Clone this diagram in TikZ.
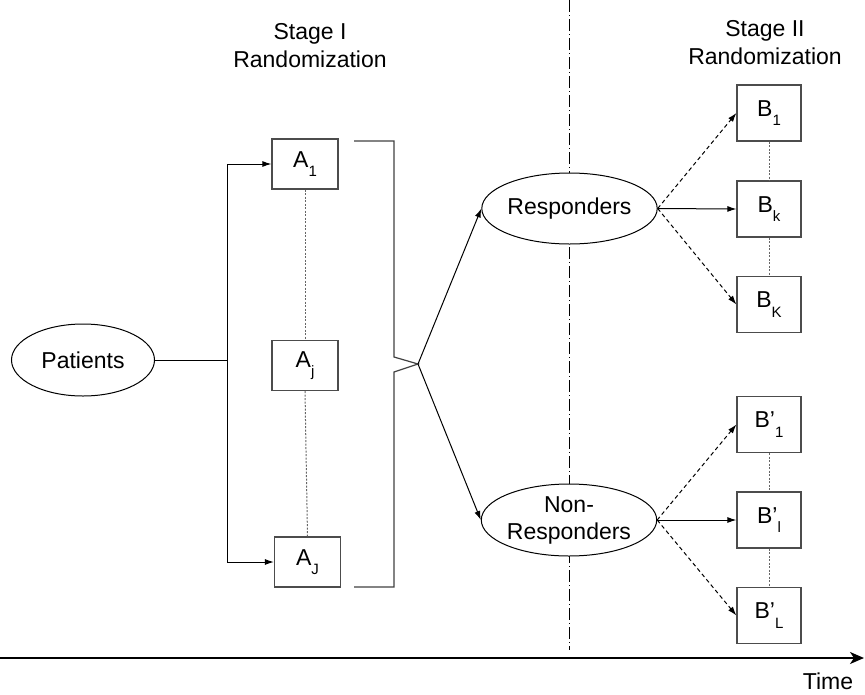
\documentclass[tikz,border=0pt]{standalone}
\usepackage{fontspec}
\setmainfont{Liberation Sans}
\usetikzlibrary{shapes.geometric,arrows.meta}
\newcommand\subtx[1]{\raisebox{-0.4em}{\fontsize{15}{15}\selectfont #1}}
\begin{document}
\begin{tikzpicture}[x=1pt,y=-1pt,
  every node/.style={font=\fontsize{23}{28}\selectfont},
  abox/.style={draw=black!70,line width=1.2pt,minimum width=66pt,minimum height=50pt,inner sep=0pt,fill=white},
  bbox/.style={draw=black!70,line width=1.2pt,minimum width=64pt,minimum height=56pt,inner sep=0pt,fill=white},
  oval/.style={ellipse,draw=black,line width=1pt,fill=white,inner sep=0pt,align=center},
  conn/.style={line width=1pt,-{Latex[length=9pt,width=6pt]}},
  dconn/.style={conn,dash pattern=on 4pt off 3pt},
  dotln/.style={draw=black!60,line width=1pt,dash pattern=on 2pt off 1.5pt},
  ttl/.style={align=center,inner sep=0pt},
]
\useasboundingbox (0,0) rectangle (865,694);

% stage divider
\coordinate (dtop) at (569,0);
\coordinate (dbot) at (569,650);
\draw[line width=0.9pt,dash pattern=on 12pt off 3pt on 1pt off 3pt] (dtop) -- (dbot);

% titles
\node[ttl] (s1) at (310,46) {Stage I\\Randomization};
\node[ttl] (s2) at (765,43) {Stage II\\Randomization};

% nodes
\node[oval,minimum width=143pt,minimum height=72pt] (pat) at (83,360) {Patients};
\node[abox] (A1) at (305,164) {A\subtx{1}};
\node[abox] (Aj) at (305,365.5) {A\subtx{j}};
\node[abox] (AJ) at (307.5,562) {A\subtx{J}};

\node[oval,minimum width=159pt,minimum height=71pt] (resp) at (569.5,208.5) {Responders};
\node[oval,minimum width=160pt,minimum height=72pt] (nresp) at (569,520) {Non-\\[-1pt]Responders};

\node[bbox] (B1) at (769,113) {B\subtx{1}};
\node[bbox] (Bk) at (769,209) {B\subtx{k}};
\node[bbox] (BK) at (769,304.5) {B\subtx{K}};
\node[bbox] (C1) at (769,424.5) {B’\subtx{1}};
\node[bbox] (Cl) at (769,520) {B’\subtx{l}};
\node[bbox] (CL) at (769,615.5) {B’\subtx{L}};

% patients to stage I
\coordinate (split) at (227,360);
\draw[line width=1pt] (pat.east) -- (split);
\draw[conn] (split) |- (A1.west);
\draw[conn] (split) |- (AJ.west);

% dotted links
\draw[dotln] (A1.south) -- (Aj.north);
\draw[dotln] (Aj.south) -- (AJ.north);
\draw[dotln] (B1.south) -- (Bk.north);
\draw[dotln] (Bk.south) -- (BK.north);
\draw[dotln] (C1.south) -- (Cl.north);
\draw[dotln] (Cl.south) -- (CL.north);

% bracket
\coordinate (tip) at (418,364);
\draw[draw=black!75,line width=1.2pt] (354,141) -- (394,141) -- (394,357) -- (tip) -- (394,372) -- (394,587) -- (354,587);
\draw[conn] (tip) -- (resp.west);
\draw[conn] (tip) -- (nresp.west);

% stage II arrows
\draw[dconn] (resp.east) -- (B1.west);
\draw[conn] (resp.east) -- (Bk.west);
\draw[dconn] (resp.east) -- (BK.west);
\draw[dconn] (nresp.east) -- (C1.west);
\draw[conn] (nresp.east) -- (Cl.west);
\draw[dconn] (nresp.east) -- (CL.west);

% time axis
\coordinate (t0) at (0,658);
\coordinate (t1) at (864,658);
\draw[line width=2pt,-{Stealth[length=14pt,width=12pt,inset=4pt]}] (t0) -- (t1);
\node[inner sep=0pt] (time) at (828,681) {Time};
\end{tikzpicture}
\end{document}
